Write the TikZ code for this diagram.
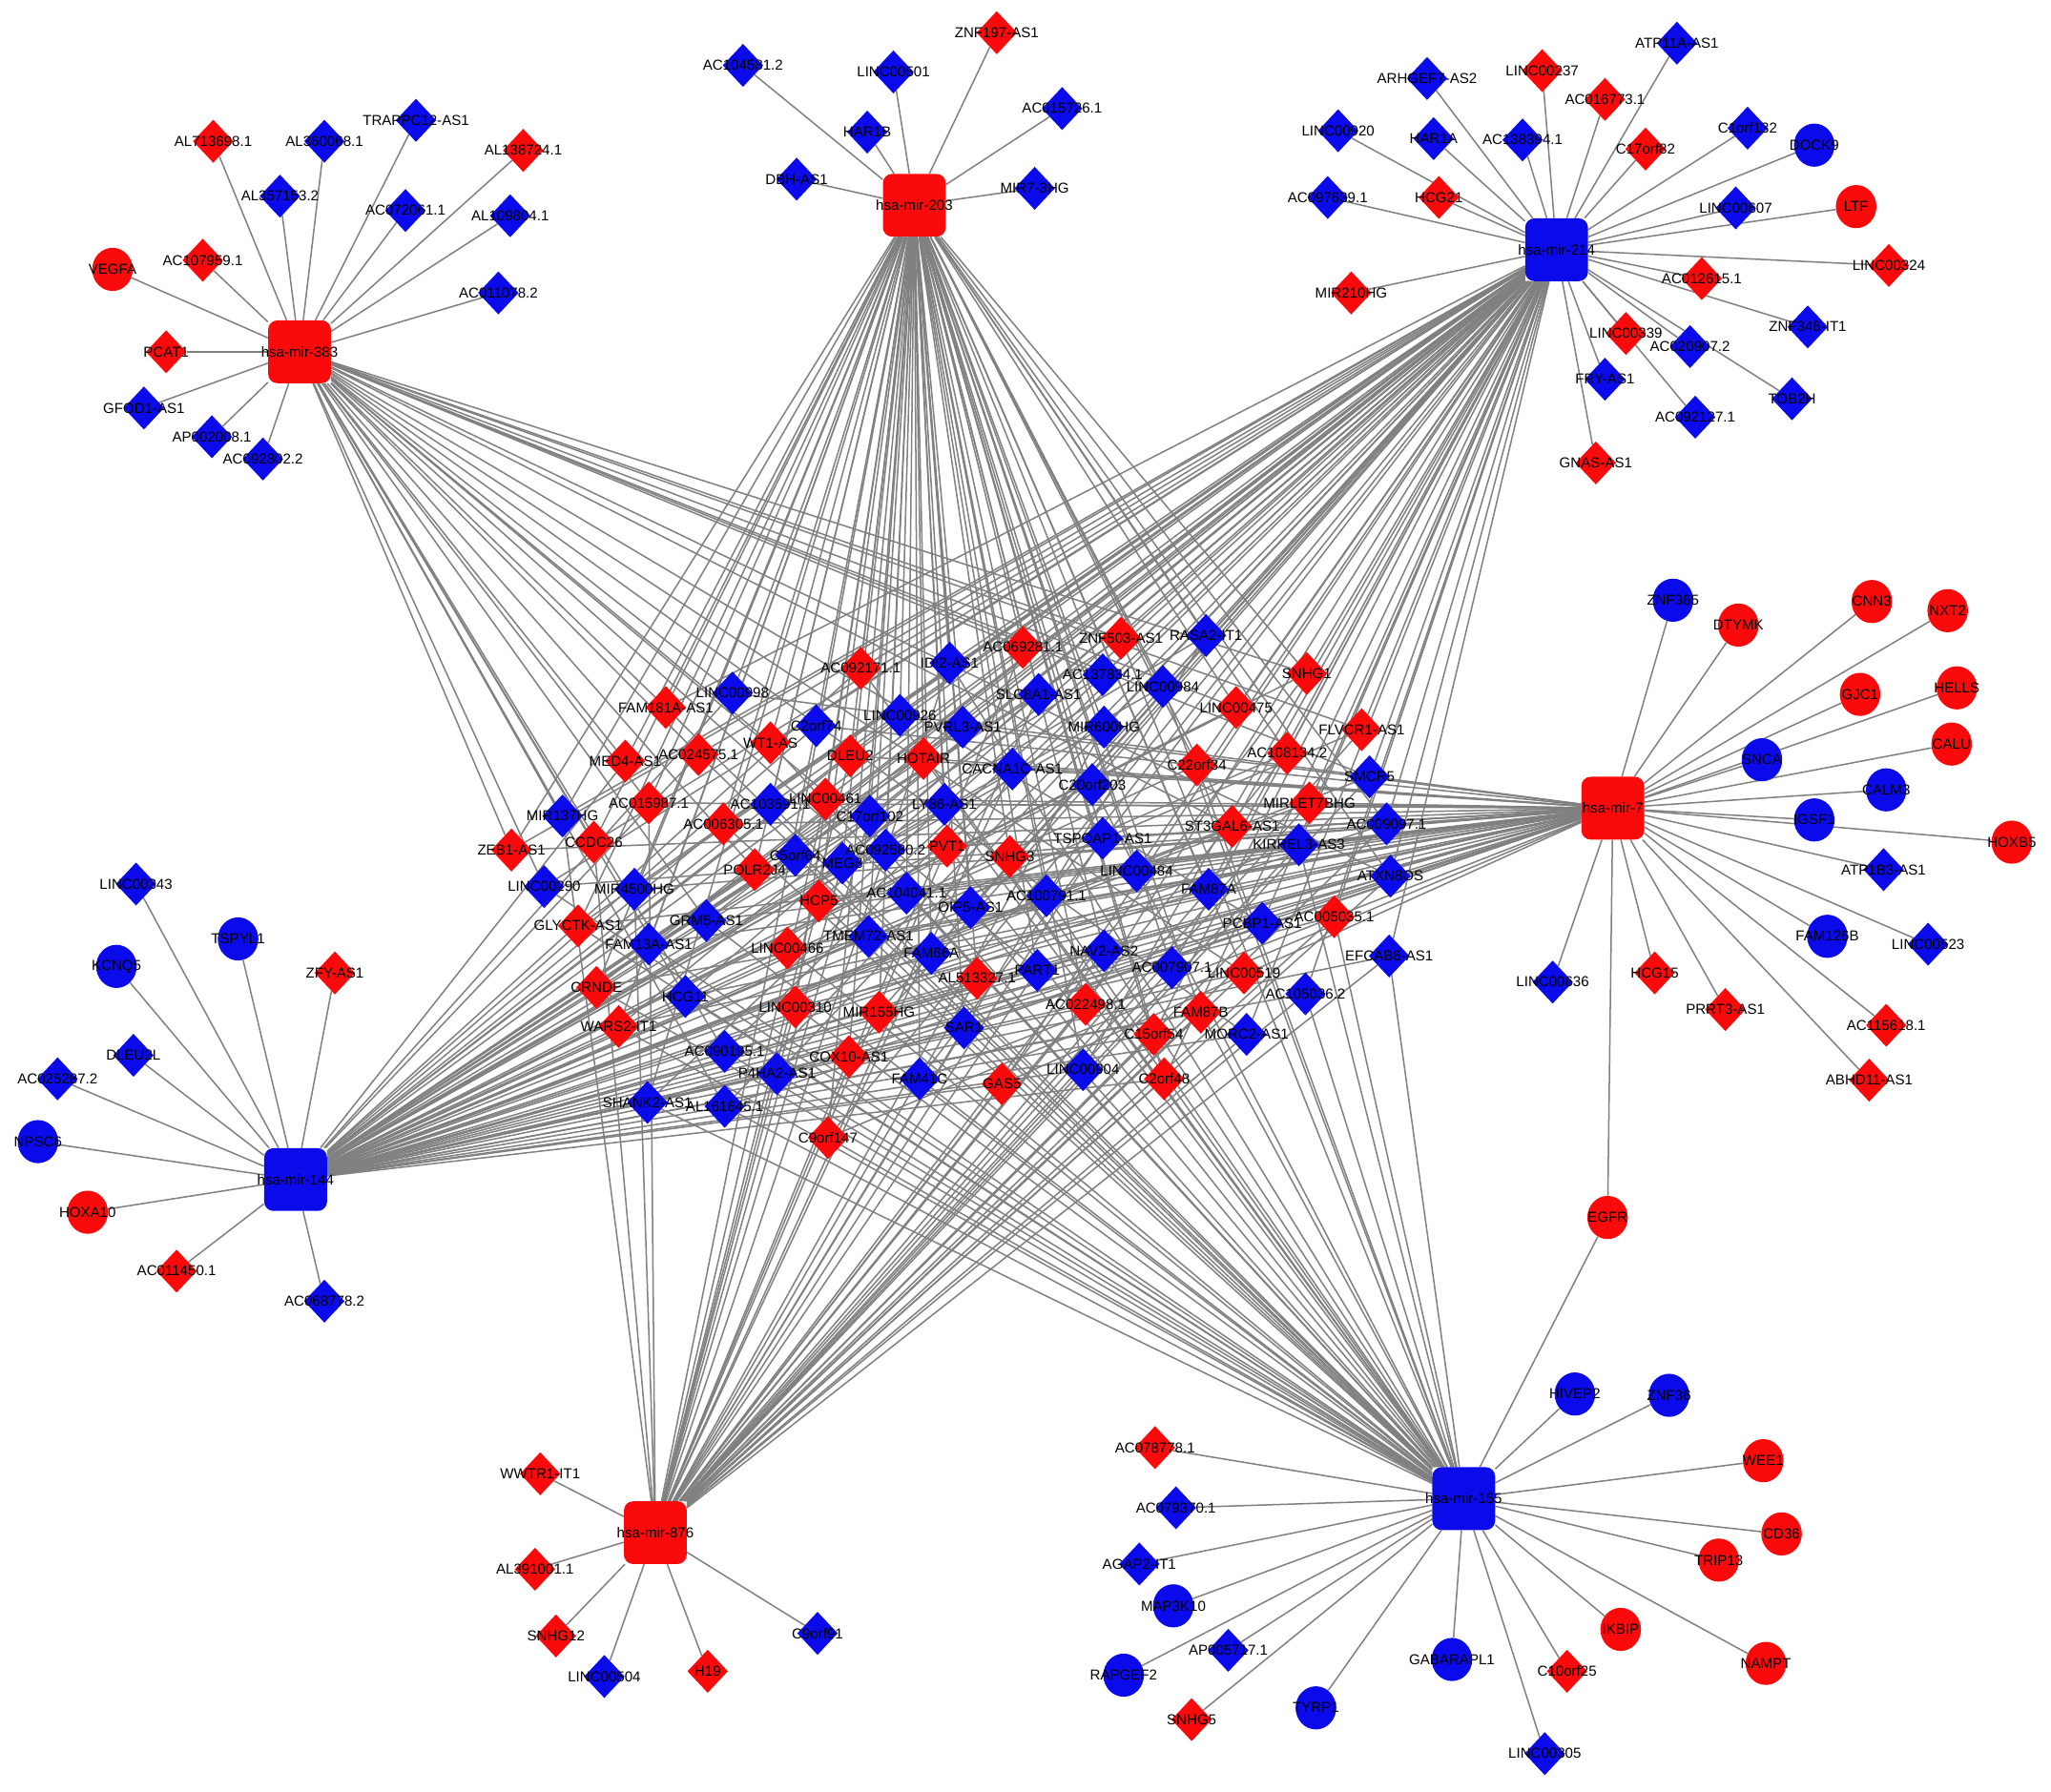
\documentclass[tikz,border=0pt]{standalone}
\usepackage{fontspec}
\setmainfont{Liberation Sans}
\usepackage{tikz}
\usetikzlibrary{shapes.geometric}

\definecolor{rd}{RGB}{250,10,10}
\definecolor{bl}{RGB}{10,10,235}
\definecolor{linkgray}{RGB}{128,128,128}

\pgfdeclarelayer{edges}
\pgfdeclarelayer{labels}
\pgfsetlayers{edges,main,labels}

\tikzset{
  hub/.style={rectangle, rounded corners=7pt, minimum size=48pt, inner sep=0pt},
  target/.style={minimum width=31pt, minimum height=33pt, inner sep=0pt},
  link/.style={draw=linkgray, line width=1.1pt},
  lbl/.style={inner sep=0pt, font=\fontsize{11}{13}\selectfont},
}

% filled shape, with its name printed on top of everything
\newcommand{\gnode}[6]{%
  \node[target, shape=#4, fill=#5] (#1) at (#2,#3) {};
  \begin{pgfonlayer}{labels}\node[lbl] (#1-t) at (#1) {#6};\end{pgfonlayer}}

\begin{document}
\begin{tikzpicture}[x=1pt, y=-1pt]
\useasboundingbox (0,0) rectangle (1568,1370);

% ---- the seven miRNA hubs ----
\foreach \n/\x/\y/\c in {383/229/269/rd, 203/699/157/rd, 214/1190/191/bl,
  7/1233/618/rd, 144/226/902/bl, 876/501/1172/rd, 155/1119/1146/bl}{
  \node[hub, fill=\c] (m\n) at (\x,\y) {};
  \begin{pgfonlayer}{labels}\node[lbl] (m\n-t) at (m\n) {hsa-mir-\n};\end{pgfonlayer}
}

% ---- hsa-mir-383 targets ----
\foreach \x/\y/\s/\c/\t [count=\k] in {
  163/108/diamond/rd/AL713698.1, 248/108/diamond/bl/AL360068.1,
  318/92/diamond/bl/TRAPPC12-AS1, 400/115/diamond/rd/AL138724.1,
  214/150/diamond/bl/AL357153.2, 310/161/diamond/bl/AC072061.1,
  390/165/diamond/bl/AL109804.1, 155/199/diamond/rd/AC107959.1,
  86/206/ellipse/rd/VEGFA, 381/224/diamond/bl/AC011078.2,
  127/269/diamond/rd/PCAT1, 110/312/diamond/bl/GFOD1-AS1,
  162/334/diamond/bl/AP002008.1, 201/351/diamond/bl/AC092802.2}{
  \gnode{m383-\k}{\x}{\y}{\s}{\c}{\t}
  \begin{pgfonlayer}{edges}\draw[link] (m383) -- (m383-\k);\end{pgfonlayer}
}

% ---- hsa-mir-203 targets ----
\foreach \x/\y/\s/\c/\t [count=\k] in {
  762/25/diamond/rd/ZNF197-AS1, 568/50/diamond/bl/AC104581.2,
  683/55/diamond/bl/LINC00501, 812/83/diamond/bl/AC015726.1,
  663/101/diamond/bl/HAR1B, 609/137/diamond/bl/DBH-AS1,
  791/144/diamond/bl/MIR7-3HG}{
  \gnode{m203-\k}{\x}{\y}{\s}{\c}{\t}
  \begin{pgfonlayer}{edges}\draw[link] (m203) -- (m203-\k);\end{pgfonlayer}
}

% ---- hsa-mir-214 targets ----
\foreach \x/\y/\s/\c/\t [count=\k] in {
  1282/33/diamond/bl/ATP11A-AS1, 1091/60/diamond/bl/ARHGEF7-AS2,
  1179/54/diamond/rd/LINC00237, 1227/76/diamond/rd/AC016773.1,
  1023/100/diamond/bl/LINC00920, 1096/106/diamond/bl/HAR1A,
  1164/107/diamond/bl/AC138394.1, 1258/114/diamond/rd/C17orf82,
  1336/98/diamond/bl/C1orf132, 1387/111/ellipse/bl/DOCK9,
  1015/151/diamond/bl/AC097639.1, 1100/151/diamond/rd/HCG21,
  1327/159/diamond/bl/LINC00607, 1419/158/ellipse/rd/LTF,
  1444/203/diamond/rd/LINC00324, 1301/213/diamond/rd/AC012615.1,
  1033/224/diamond/rd/MIR210HG, 1382/250/diamond/bl/ZNF346-IT1,
  1243/255/diamond/rd/LINC00339, 1292/265/diamond/bl/AC020907.2,
  1227/290/diamond/bl/FRY-AS1, 1370/305/diamond/bl/TOB2H,
  1296/319/diamond/bl/AC092127.1, 1220/354/diamond/rd/GNAS-AS1}{
  \gnode{m214-\k}{\x}{\y}{\s}{\c}{\t}
  \begin{pgfonlayer}{edges}\draw[link] (m214) -- (m214-\k);\end{pgfonlayer}
}

% ---- hsa-mir-7 targets ----
\foreach \x/\y/\s/\c/\t [count=\k] in {
  1279/459/ellipse/bl/ZNF365, 1329/478/ellipse/rd/DTYMK,
  1431/460/ellipse/rd/CNN3, 1489/467/ellipse/rd/NXT2,
  1422/531/ellipse/rd/GJC1, 1496/526/ellipse/rd/HELLS,
  1347/581/ellipse/bl/SNCA, 1492/569/ellipse/rd/CALU,
  1442/604/ellipse/bl/CALM3, 1387/627/ellipse/bl/IGSF1,
  1538/644/ellipse/rd/HOXB5, 1440/665/diamond/bl/ATP1B3-AS1,
  1397/716/ellipse/bl/FAM126B, 1474/722/diamond/bl/LINC00523,
  1187/751/diamond/bl/LINC00636, 1265/744/diamond/rd/HCG15,
  1319/772/diamond/rd/PRRT3-AS1, 1442/784/diamond/rd/AC115618.1,
  1429/826/diamond/rd/ABHD11-AS1, 1229/931/ellipse/rd/EGFR}{
  \gnode{m7-\k}{\x}{\y}{\s}{\c}{\t}
  \begin{pgfonlayer}{edges}\draw[link] (m7) -- (m7-\k);\end{pgfonlayer}
}

% ---- hsa-mir-144 targets ----
\foreach \x/\y/\s/\c/\t [count=\k] in {
  104/676/diamond/bl/LINC00343, 182/718/ellipse/bl/TSPYL1,
  89/739/ellipse/bl/KCNQ5, 256/744/diamond/rd/ZFY-AS1,
  102/807/diamond/bl/DLEU2L, 44/825/diamond/bl/AC025287.2,
  29/873/ellipse/bl/NPSC6, 67/927/ellipse/rd/HOXA10,
  135/972/diamond/rd/AC011450.1, 248/995/diamond/bl/AC068778.2}{
  \gnode{m144-\k}{\x}{\y}{\s}{\c}{\t}
  \begin{pgfonlayer}{edges}\draw[link] (m144) -- (m144-\k);\end{pgfonlayer}
}

% ---- hsa-mir-876 targets ----
\foreach \x/\y/\s/\c/\t [count=\k] in {
  413/1127/diamond/rd/WWTR1-IT1, 409/1200/diamond/rd/AL391001.1,
  425/1251/diamond/rd/SNHG12, 462/1282/diamond/bl/LINC00504,
  541/1278/diamond/rd/H19, 625/1249/diamond/bl/C9orf91}{
  \gnode{m876-\k}{\x}{\y}{\s}{\c}{\t}
  \begin{pgfonlayer}{edges}\draw[link] (m876) -- (m876-\k);\end{pgfonlayer}
}

% ---- hsa-mir-155 targets ----
\foreach \x/\y/\s/\c/\t [count=\k] in {
  1204/1066/ellipse/bl/HIVEP2, 1276/1067/ellipse/bl/ZNF36,
  883/1107/diamond/rd/AC078778.1, 1348/1117/ellipse/rd/WEE1,
  899/1153/diamond/bl/AC079370.1, 1362/1173/ellipse/rd/CD36,
  1314/1193/ellipse/rd/TRIP13, 871/1196/diamond/bl/AGAP2-IT1,
  897/1228/ellipse/bl/MAP3K10, 1239/1246/ellipse/rd/IKBIP,
  939/1262/diamond/bl/AP005717.1, 859/1281/ellipse/bl/RAPGEF2,
  1110/1269/ellipse/bl/GABARAPL1, 1198/1278/diamond/rd/C10orf25,
  1350/1272/ellipse/rd/NAMPT, 911/1315/diamond/rd/SNHG5,
  1006/1306/ellipse/bl/TYRP1, 1181/1341/diamond/bl/LINC00305}{
  \gnode{m155-\k}{\x}{\y}{\s}{\c}{\t}
  \begin{pgfonlayer}{edges}\draw[link] (m155) -- (m155-\k);\end{pgfonlayer}
}
% EGFR is shared by two hubs
\begin{pgfonlayer}{edges}\draw[link] (m155) -- (m7-20);\end{pgfonlayer}

% ---- shared lncRNAs in the middle, with the hubs they bind ----
\foreach \x/\y/\c/\t/\hs [count=\k] in {
  658/511/rd/AC092171.1/{203,214,144,155}, 726/507/bl/IDI2-AS1/{203,214,876,155},
  560/530/bl/LINC00998/{383,203,144,7}, 509/541/rd/FAM181A-AS1/{383,203,214,155},
  688/547/bl/LINC00926/{203,214,144}, 624/555/bl/C2orf74/{203,7,144,876},
  589/568/rd/WT1-AS/{383,203,214,155}, 650/578/rd/DLEU2/{203,214,7,144,876},
  706/580/rd/HOTAIR/{203,214,7,144,155}, 478/582/rd/MED4-AS1/{383,203,144},
  534/577/rd/AC024575.1/{383,214,144,155}, 496/614/rd/AC015987.1/{383,203,7,876},
  589/615/bl/AC103591.1/{203,214,144,155}, 631/611/rd/LINC00461/{203,214,7,876},
  665/624/bl/C17orf102/{203,214,144,876}, 722/615/bl/LY86-AS1/{203,7,144,155},
  430/624/bl/MIR137HG/{383,203,214,876}, 553/630/rd/AC006305.1/{203,214,7,144,155},
  391/650/rd/ZEB1-AS1/{383,203,214,7}, 454/644/rd/CCDC26/{383,203,214,876},
  608/654/bl/C5orf64/{203,214,144,155}, 644/660/bl/MEG8/{203,214,876},
  677/650/bl/AC092580.2/{203,7,144,155}, 724/647/rd/PVT1/{203,214,7,144,876,155},
  577/665/rd/POLR2J4/{383,203,214,144}, 416/678/bl/LINC00290/{383,214,7,155},
  485/680/bl/MIR4500HG/{203,214,7,876}, 782/495/rd/AC069281.1/{383,203,144,876},
  857/488/rd/ZNF503-AS1/{383,214,144,155}, 922/486/bl/RASA2-IT1/{203,214,144,876},
  843/516/bl/AC137834.1/{383,203,214,144}, 999/515/rd/SNHG1/{383,203,214,144,876},
  794/531/bl/SLC8A1-AS1/{203,214,144,876}, 889/525/bl/LINC00984/{203,214,144,155},
  945/541/rd/LINC00475/{383,203,214,144}, 736/556/bl/PVRL3-AS1/{203,214,7,144},
  844/556/bl/MIR600HG/{203,214,144,876}, 1041/558/rd/FLVCR1-AS1/{383,214,144,876},
  984/576/rd/AC108134.2/{203,214,144,876}, 774/588/bl/CACNA1C-AS1/{203,7,144,876},
  915/585/rd/C22orf34/{203,214,144,155}, 1047/594/bl/SMCR5/{383,214,144,876},
  835/600/bl/C20orf203/{203,214,144,155}, 1001/614/rd/MIRLET7BHG/{214,7,144,876},
  1060/630/bl/AC009097.1/{203,214,144,876}, 942/632/rd/ST3GAL6-AS1/{383,203,214,144},
  843/641/bl/TSPOAP1-AS1/{203,7,144,876}, 993/646/bl/KIRREL3-AS3/{214,144,876,155},
  772/655/rd/SNHG3/{203,214,7,144,155}, 869/666/bl/LINC00484/{203,214,7,144},
  1063/670/bl/ATXN8OS/{383,203,214,144,876}, 800/685/bl/AC100791.1/{203,214,7,155},
  924/680/bl/FAM87A/{203,214,144,876}, 626/689/rd/HCP5/{203,214,7,876,155},
  693/683/bl/AC104041.1/{383,203,7,155}, 442/708/rd/GLYCTK-AS1/{203,214,7,155},
  540/704/bl/GRM5-AS1/{383,214,7,155}, 496/722/bl/FAM13A-AS1/{203,214,7,155},
  664/716/bl/TMEM72-AS1/{203,7,144,155}, 602/725/rd/LINC00466/{214,7,144,155},
  712/729/bl/FAM66A/{203,214,7,144}, 456/755/rd/CRNDE/{203,214,7,155},
  524/762/bl/HCG11/{383,214,7,155}, 608/770/rd/LINC00310/{203,7,876,155},
  672/774/rd/MIR155HG/{203,214,7,155}, 473/785/rd/WARS2-IT1/{203,214,7,155},
  554/804/bl/AC090195.1/{383,214,7,155}, 649/808/rd/COX10-AS1/{203,214,7,876},
  594/821/bl/P4HA2-AS1/{214,7,144,155}, 703/825/bl/FAM41C/{203,214,7,155},
  495/843/bl/SHANK2-AS1/{203,214,7,155}, 554/846/bl/AL161645.1/{383,214,7,155},
  633/870/rd/C9orf147/{203,214,7,155}, 742/694/bl/OIP5-AS1/{203,214,144,155},
  965/706/bl/PCBP1-AS1/{383,214,144,876}, 1020/701/rd/AC005035.1/{214,144,876,155},
  844/727/bl/NAV2-AS2/{203,144,876,155}, 1062/731/bl/EFCAB6-AS1/{214,144,876,155},
  747/748/rd/AL513327.1/{203,7,144,876}, 793/742/bl/PART1/{383,203,144,876},
  896/740/bl/AC007907.1/{203,214,144,876}, 951/744/rd/LINC00519/{383,203,144,876},
  830/768/rd/AC022498.1/{203,214,144,876}, 998/760/bl/AC105036.2/{214,144,876,155},
  918/774/rd/FAM87B/{203,144,876,155}, 737/786/bl/SAR1/{203,7,144,876},
  882/791/rd/C15orf54/{203,214,144,876}, 953/791/bl/MORC2-AS1/{383,214,144,876},
  766/829/rd/GAS5/{214,7,144,876}, 828/818/bl/LINC00904/{203,214,144,876},
  890/825/rd/C2orf48/{203,214,144,876}}{
  \gnode{c\k}{\x}{\y}{diamond}{\c}{\t}
  \begin{pgfonlayer}{edges}
    \foreach \h in \hs {\draw[link] (m\h) -- (c\k);}
  \end{pgfonlayer}
}
\end{tikzpicture}
\end{document}
